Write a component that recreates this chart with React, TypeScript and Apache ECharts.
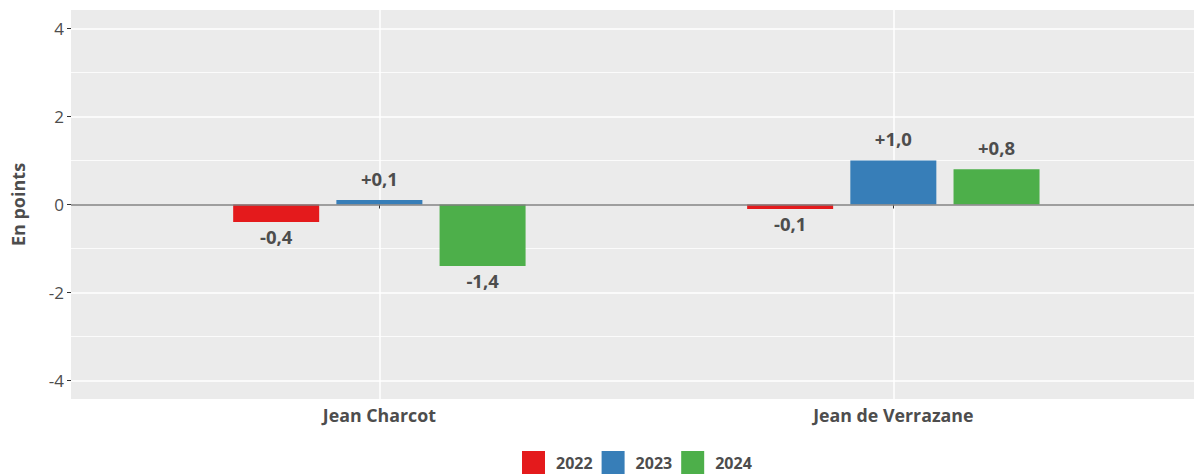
import React, { useEffect, useRef } from "react";
import * as echarts from "echarts";

const categories = ["Jean Charcot", "Jean de Verrazane"];
const years = ["2022", "2023", "2024"];
const values2022 = [-0.4, -0.1];
const values2023 = [0.1, 1.0];
const values2024 = [-1.4, 0.8];
const majorTicks = [-4, -2, 0, 2, 4];
const minorTicks = [-3, -1, 1, 3];
const colors = ["#E41A1C", "#377EB8", "#4DAF4A"];

const FONT = "'Open Sans', 'DejaVu Sans', sans-serif";
const TXT = "#4D4D4D";

const fmt = (v: number) => (v > 0 ? "+" : "") + v.toFixed(1).replace(".", ",");

export default function App() {
  const ref = useRef<HTMLDivElement>(null);
  useEffect(() => {
    if (!ref.current) return;
    const chart = echarts.init(ref.current, undefined, { renderer: "svg" });
    const seriesVals = [values2022, values2023, values2024];
    const series: any[] = seriesVals.map((vals, si) => ({
      type: "bar",
      name: years[si],
      xAxisIndex: 0,
      yAxisIndex: 0,
      barWidth: 86,
      barGap: "20%",
      itemStyle: { color: colors[si] },
      data: vals.map((v, i) => ({
        value: [i + 1, v],
        label: {
          show: true,
          position: v >= 0 ? "top" : "bottom",
          distance: v >= 0 ? 12 : 5,
          formatter: () => fmt(v),
          fontFamily: FONT,
          fontWeight: "bold",
          fontSize: 18.5,
          color: TXT,
        },
      })),
      markLine:
        si === 0
          ? {
              silent: true,
              symbol: "none",
              label: { show: false },
              lineStyle: { color: "#7F7F7F", width: 1.5, type: "solid" },
              data: [{ yAxis: 0 }],
            }
          : undefined,
    }));

    chart.setOption({
      animation: false,
      grid: {
        left: 71,
        top: 10,
        width: 1123,
        height: 389,
        show: true,
        backgroundColor: "#EBEBEB",
        borderWidth: 0,
      },
      legend: {
        top: 451,
        left: 522,
        padding: 0,
        itemWidth: 23,
        itemHeight: 23,
        itemGap: 9,
        icon: "rect",
        formatter: (name: string) => "{s|}{t|" + name + "}",
        textStyle: {
          fontFamily: FONT,
          fontWeight: "bold",
          fontSize: 16,
          color: TXT,
          rich: {
            s: { width: 6 },
            t: { fontFamily: FONT, fontWeight: "bold", fontSize: 16, color: TXT },
          },
        },
        data: years,
      },
      xAxis: {
        type: "value",
        min: 0.4,
        max: 2.585,
        axisLine: { show: false },
        axisTick: { show: true, customValues: [1, 2], length: 4, lineStyle: { color: "#333333" } },
        axisLabel: {
          customValues: [1, 2],
          formatter: (v: number) => categories[Math.round(v) - 1] ?? "",
          fontFamily: FONT,
          fontWeight: "bold",
          fontSize: 17.8,
          color: TXT,
          margin: 7,
        },
        splitLine: { show: true, lineStyle: { color: "#FFFFFF", width: 1.5 } },
      },
      yAxis: [
        {
          type: "value",
          min: -4.42,
          max: 4.42,
          name: "En points",
          nameLocation: "middle",
          nameGap: 44,
          nameTextStyle: { fontFamily: FONT, fontWeight: "bold", fontSize: 18, color: TXT },
          axisLine: { show: false },
          axisTick: { show: true, customValues: majorTicks, length: 4, lineStyle: { color: "#333333" } },
          axisLabel: {
            customValues: majorTicks,
            formatter: (v: number) => String(Math.round(v)),
            fontFamily: FONT,
            fontSize: 17,
            color: TXT,
            margin: 7,
          },
          splitLine: { show: true, lineStyle: { color: "#FFFFFF", width: 1.5 } },
        },
        {
          type: "value",
          min: -4.42,
          max: 4.42,
          position: "left",
          axisLine: { show: false },
          axisTick: { show: false, customValues: minorTicks },
          axisLabel: { show: false, customValues: minorTicks },
          splitLine: { show: true, lineStyle: { color: "#FFFFFF", width: 0.8 } },
        },
      ],
      series,
    });
    return () => chart.dispose();
  }, []);
  return (
    <div
      ref={ref}
      style={{ position: "absolute", left: 0, top: 0, width: 1194, height: 474 }}
    />
  );
}
